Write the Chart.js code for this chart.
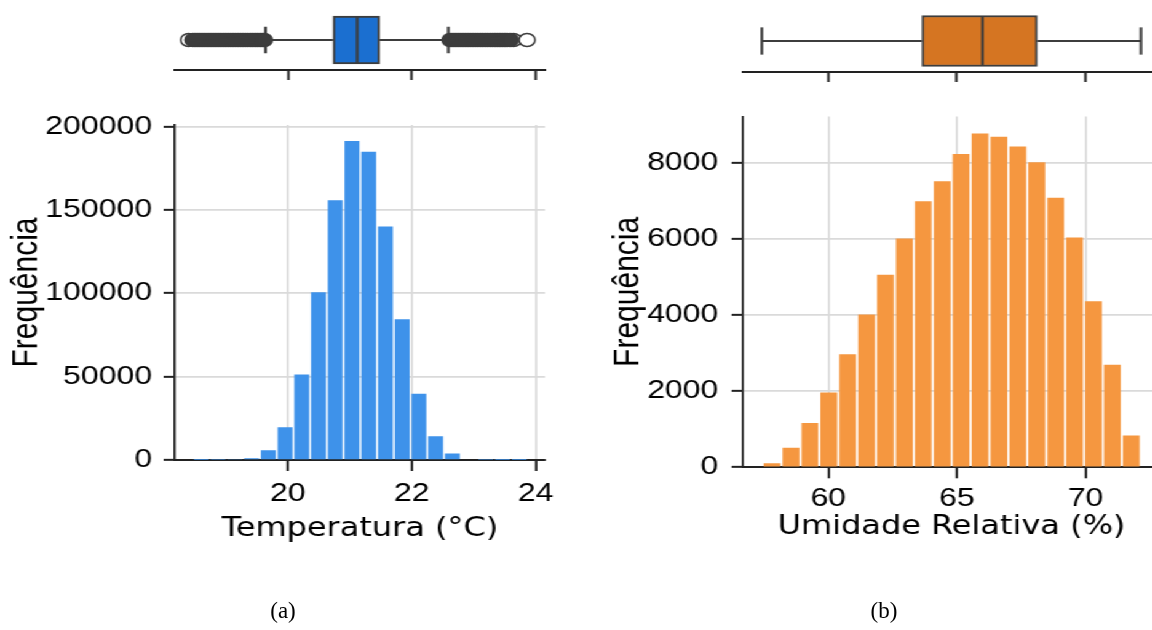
<!DOCTYPE html>
<html><head><meta charset="utf-8">
<script src="https://cdn.jsdelivr.net/npm/chart.js@4.4.1/dist/chart.umd.min.js"></script>
<style>
html,body{margin:0;padding:0;background:#fff;overflow:hidden;width:1152px;height:630px;}
#wrap{position:absolute;left:0;top:0;width:937px;height:630px;transform:scaleX(1.23);transform-origin:0 0;}
#wrap canvas{position:absolute;}
.cap{position:absolute;font-family:'Liberation Serif','Times New Roman',serif;font-size:23px;color:#000;transform:translate(-50%,-50%);white-space:nowrap;}
</style></head><body>
<div id="wrap">
<canvas id="boxT" width="322" height="90" style="left:132px;top:0px"></canvas>
<canvas id="histT" width="460" height="470" style="left:0px;top:100px"></canvas>
<canvas id="boxH" width="360" height="92" style="left:594px;top:0px"></canvas>
<canvas id="histH" width="484" height="480" style="left:470px;top:90px"></canvas>
</div>
<div class="cap" style="left:283px;top:611px">(a)</div>
<div class="cap" style="left:884px;top:611px">(b)</div>
<script>
// ---------- data ----------
const tempBins   = [18.605, 18.875, 19.145, 19.415, 19.685, 19.955, 20.225, 20.495, 20.765, 21.035,
                    21.305, 21.575, 21.845, 22.115, 22.385, 22.655, 22.925, 23.195, 23.465, 23.735];
const tempCounts = [20, 90, 300, 1000, 5900, 19700, 51300, 100600, 155800, 191300,
                    184800, 140000, 84400, 39800, 14200, 3900, 500, 120, 40, 10];
const humBins    = [57.817, 58.552, 59.286, 60.021, 60.755, 61.490, 62.224, 62.959, 63.693, 64.428,
                    65.162, 65.897, 66.631, 67.366, 68.100, 68.835, 69.569, 70.304, 71.038, 71.773];
const humCounts  = [104, 512, 1165, 1966, 2976, 4021, 5065, 6021, 6997, 7527,
                    8240, 8781, 8695, 8441, 8023, 7091, 6047, 4368, 2697, 836];
// box stats: [whisker low, Q1, median, Q3, whisker high]
const tempBoxStats = [19.64, 20.73, 21.12, 21.48, 22.59];
const humBoxStats  = [57.42, 63.64, 65.99, 68.12, 72.15];
// outliers (fliers) of temperature
const tempFliersDense = [18.47, 18.51, 18.55, 18.59, 18.63, 18.67, 18.71, 18.75, 18.79, 18.83, 18.87,
                         18.91, 18.95, 18.99, 19.03, 19.07, 19.11, 19.15, 19.19, 19.23, 19.27, 19.31,
                         19.35, 19.39, 19.43, 19.47, 19.51, 19.55, 19.59, 19.62,
                         22.62, 22.66, 22.70, 22.74, 22.78, 22.82, 22.86, 22.90, 22.94, 22.98, 23.02,
                         23.06, 23.10, 23.14, 23.18, 23.22, 23.26, 23.30, 23.34, 23.38, 23.42, 23.46,
                         23.50, 23.54, 23.59];
const tempFliersSparse = [18.40, 23.64, 23.86];
// tick labels
const tempTicks = [20, 22, 24];
const humTicks  = [60, 65, 70];
const tempFreqTicks = [0, 50000, 100000, 150000, 200000];
const humFreqTicks  = [0, 2000, 4000, 6000, 8000];
// axis ranges
const tempRange = [18.18, 24.15];
const humRange  = [56.69, 72.89];
const tempFreqMax = 200900;
const humFreqMax  = 9230;

// ---------- styles ----------
const FONT_TICK = {family:"'Liberation Sans', Arial, sans-serif", size:26};
const FONT_XT   = {family:"'DejaVu Sans', sans-serif", size:26};
const FONT_YT   = {family:"'Liberation Sans', Arial, sans-serif", size:30};
const AX = '#222222', GRID = '#dadada', EDGE = '#3d3d3d', TXT = '#000';
const BOX_HALF = 0.4, CAP_HALF = 0.22;

function fixTicks(list){ return function(scale){ scale.ticks = list.map(v => ({value: v})); }; }

function histChart(id, bins, counts, color, xr, xt, yMax, yt, cfg){
  return new Chart(document.getElementById(id), {
    type:'bar',
    data:{datasets:[{data: bins.map((b,i)=>({x:b, y:counts[i]})), backgroundColor: color,
                     borderWidth:0, barPercentage:0.89, categoryPercentage:1}]},
    options:{
      responsive:false, animation:false, events:[],
      layout:{padding:cfg.pad},
      plugins:{legend:{display:false}, tooltip:{enabled:false}},
      scales:{
        x:{type:'linear', min:xr[0], max:xr[1], offset:false,
           afterBuildTicks: fixTicks(xt), afterFit: s => { s.height = cfg.xH; },
           grid:{offset:false, color:GRID, lineWidth:1.7, tickColor:AX, tickLength:11, tickWidth:2},
           border:{display:true, color:AX, width:2},
           ticks:{font:FONT_TICK, color:TXT, padding:cfg.xPad, maxRotation:0, callback: v => String(v)},
           title:{display:true, text:cfg.xTitle, font:FONT_XT, color:TXT, padding:{top:0, bottom:cfg.xTitlePad}}},
        y:{type:'linear', min:0, max:yMax,
           afterBuildTicks: fixTicks(yt), afterFit: s => { s.width = cfg.yW; },
           grid:{color:GRID, lineWidth:1.7, tickColor:AX, tickLength:9.3, tickWidth:2},
           border:{display:true, color:AX, width:1.7},
           ticks:{font:FONT_TICK, color:TXT, padding:cfg.yPad, callback: v => String(v)},
           title:{display:true, text:'Frequência', font:FONT_YT, color:TXT, padding:{top:cfg.yTitlePad, bottom:0}}}
      }
    }
  });
}

function boxChart(id, stats, fill, xr, xt, dense, sparse, cfg){
  const [wlo, q1, med, q3, whi] = stats;
  const seg = (pts, order) => ({type:'scatter', data:pts, showLine:true, borderColor:EDGE, borderWidth:2.2,
                                pointRadius:0, order:order});
  const ds = [
    {type:'bar', data:[{y:0, x:[q1, q3]}], backgroundColor:fill, borderColor:EDGE, borderWidth:2,
     borderSkipped:false, barThickness:cfg.boxPx, order:1},
    seg([{x:med, y:-BOX_HALF}, {x:med, y:BOX_HALF}], 0),
    seg([{x:wlo, y:0}, {x:q1, y:0}], 2),
    seg([{x:q3, y:0}, {x:whi, y:0}], 2),
    seg([{x:wlo, y:-CAP_HALF}, {x:wlo, y:CAP_HALF}], 2),
    seg([{x:whi, y:-CAP_HALF}, {x:whi, y:CAP_HALF}], 2)
  ];
  if (dense.length) ds.push({type:'scatter', data: dense.map(v => ({x:v, y:0})), pointRadius:6.5,
     pointBorderWidth:1.5, pointBorderColor:EDGE, pointBackgroundColor:EDGE, showLine:false, order:0});
  if (sparse.length) ds.push({type:'scatter', data: sparse.map(v => ({x:v, y:0})), pointRadius:6.5,
     pointBorderWidth:1.5, pointBorderColor:EDGE, pointBackgroundColor:'#ffffff', showLine:false, order:0});
  return new Chart(document.getElementById(id), {
    type:'bar',
    data:{datasets: ds},
    options:{
      indexAxis:'y', responsive:false, animation:false, events:[],
      layout:{padding:cfg.pad},
      plugins:{legend:{display:false}, tooltip:{enabled:false}},
      scales:{
        x:{type:'linear', min:xr[0], max:xr[1], offset:false, position:'bottom',
           afterBuildTicks: fixTicks(xt), afterFit: s => { s.height = cfg.xH; },
           grid:{drawOnChartArea:false, drawTicks:true, tickColor:AX, tickLength:10, tickWidth:2},
           border:{display:true, color:AX, width:2},
           ticks:{display:false}},
        y:{type:'linear', min:-0.5, max:0.5, offset:false, display:false}
      }
    }
  });
}

histChart('histT', tempBins, tempCounts, '#3e92ea', tempRange, tempTicks, tempFreqMax, tempFreqTicks,
  {pad:{left:0, top:20.3, right:16.9, bottom:0}, xH:110, yW:142.3, xPad:7.5, yPad:9.4,
   xTitle:'Temperatura (°C)', xTitlePad:25.5, yTitlePad:4});
histChart('histH', humBins, humCounts, '#f59740', humRange, humTicks, humFreqMax, humFreqTicks,
  {pad:{left:0, top:23.3, right:10.9, bottom:0}, xH:102.7, yW:134.1, xPad:5.2, yPad:10.8,
   xTitle:'Umidade Relativa (%)', xTitlePad:27, yTitlePad:22.6});
boxChart('boxT', tempBoxStats, '#1b6fd0', tempRange, tempTicks, tempFliersDense, tempFliersSparse,
  {pad:{left:10.3, top:10, right:10.9, bottom:0}, xH:20, boxPx:48});
boxChart('boxH', humBoxStats, '#d57522', humRange, humTicks, [], [],
  {pad:{left:10.1, top:10, right:10.9, bottom:0}, xH:20, boxPx:51});
</script>
</body></html>
